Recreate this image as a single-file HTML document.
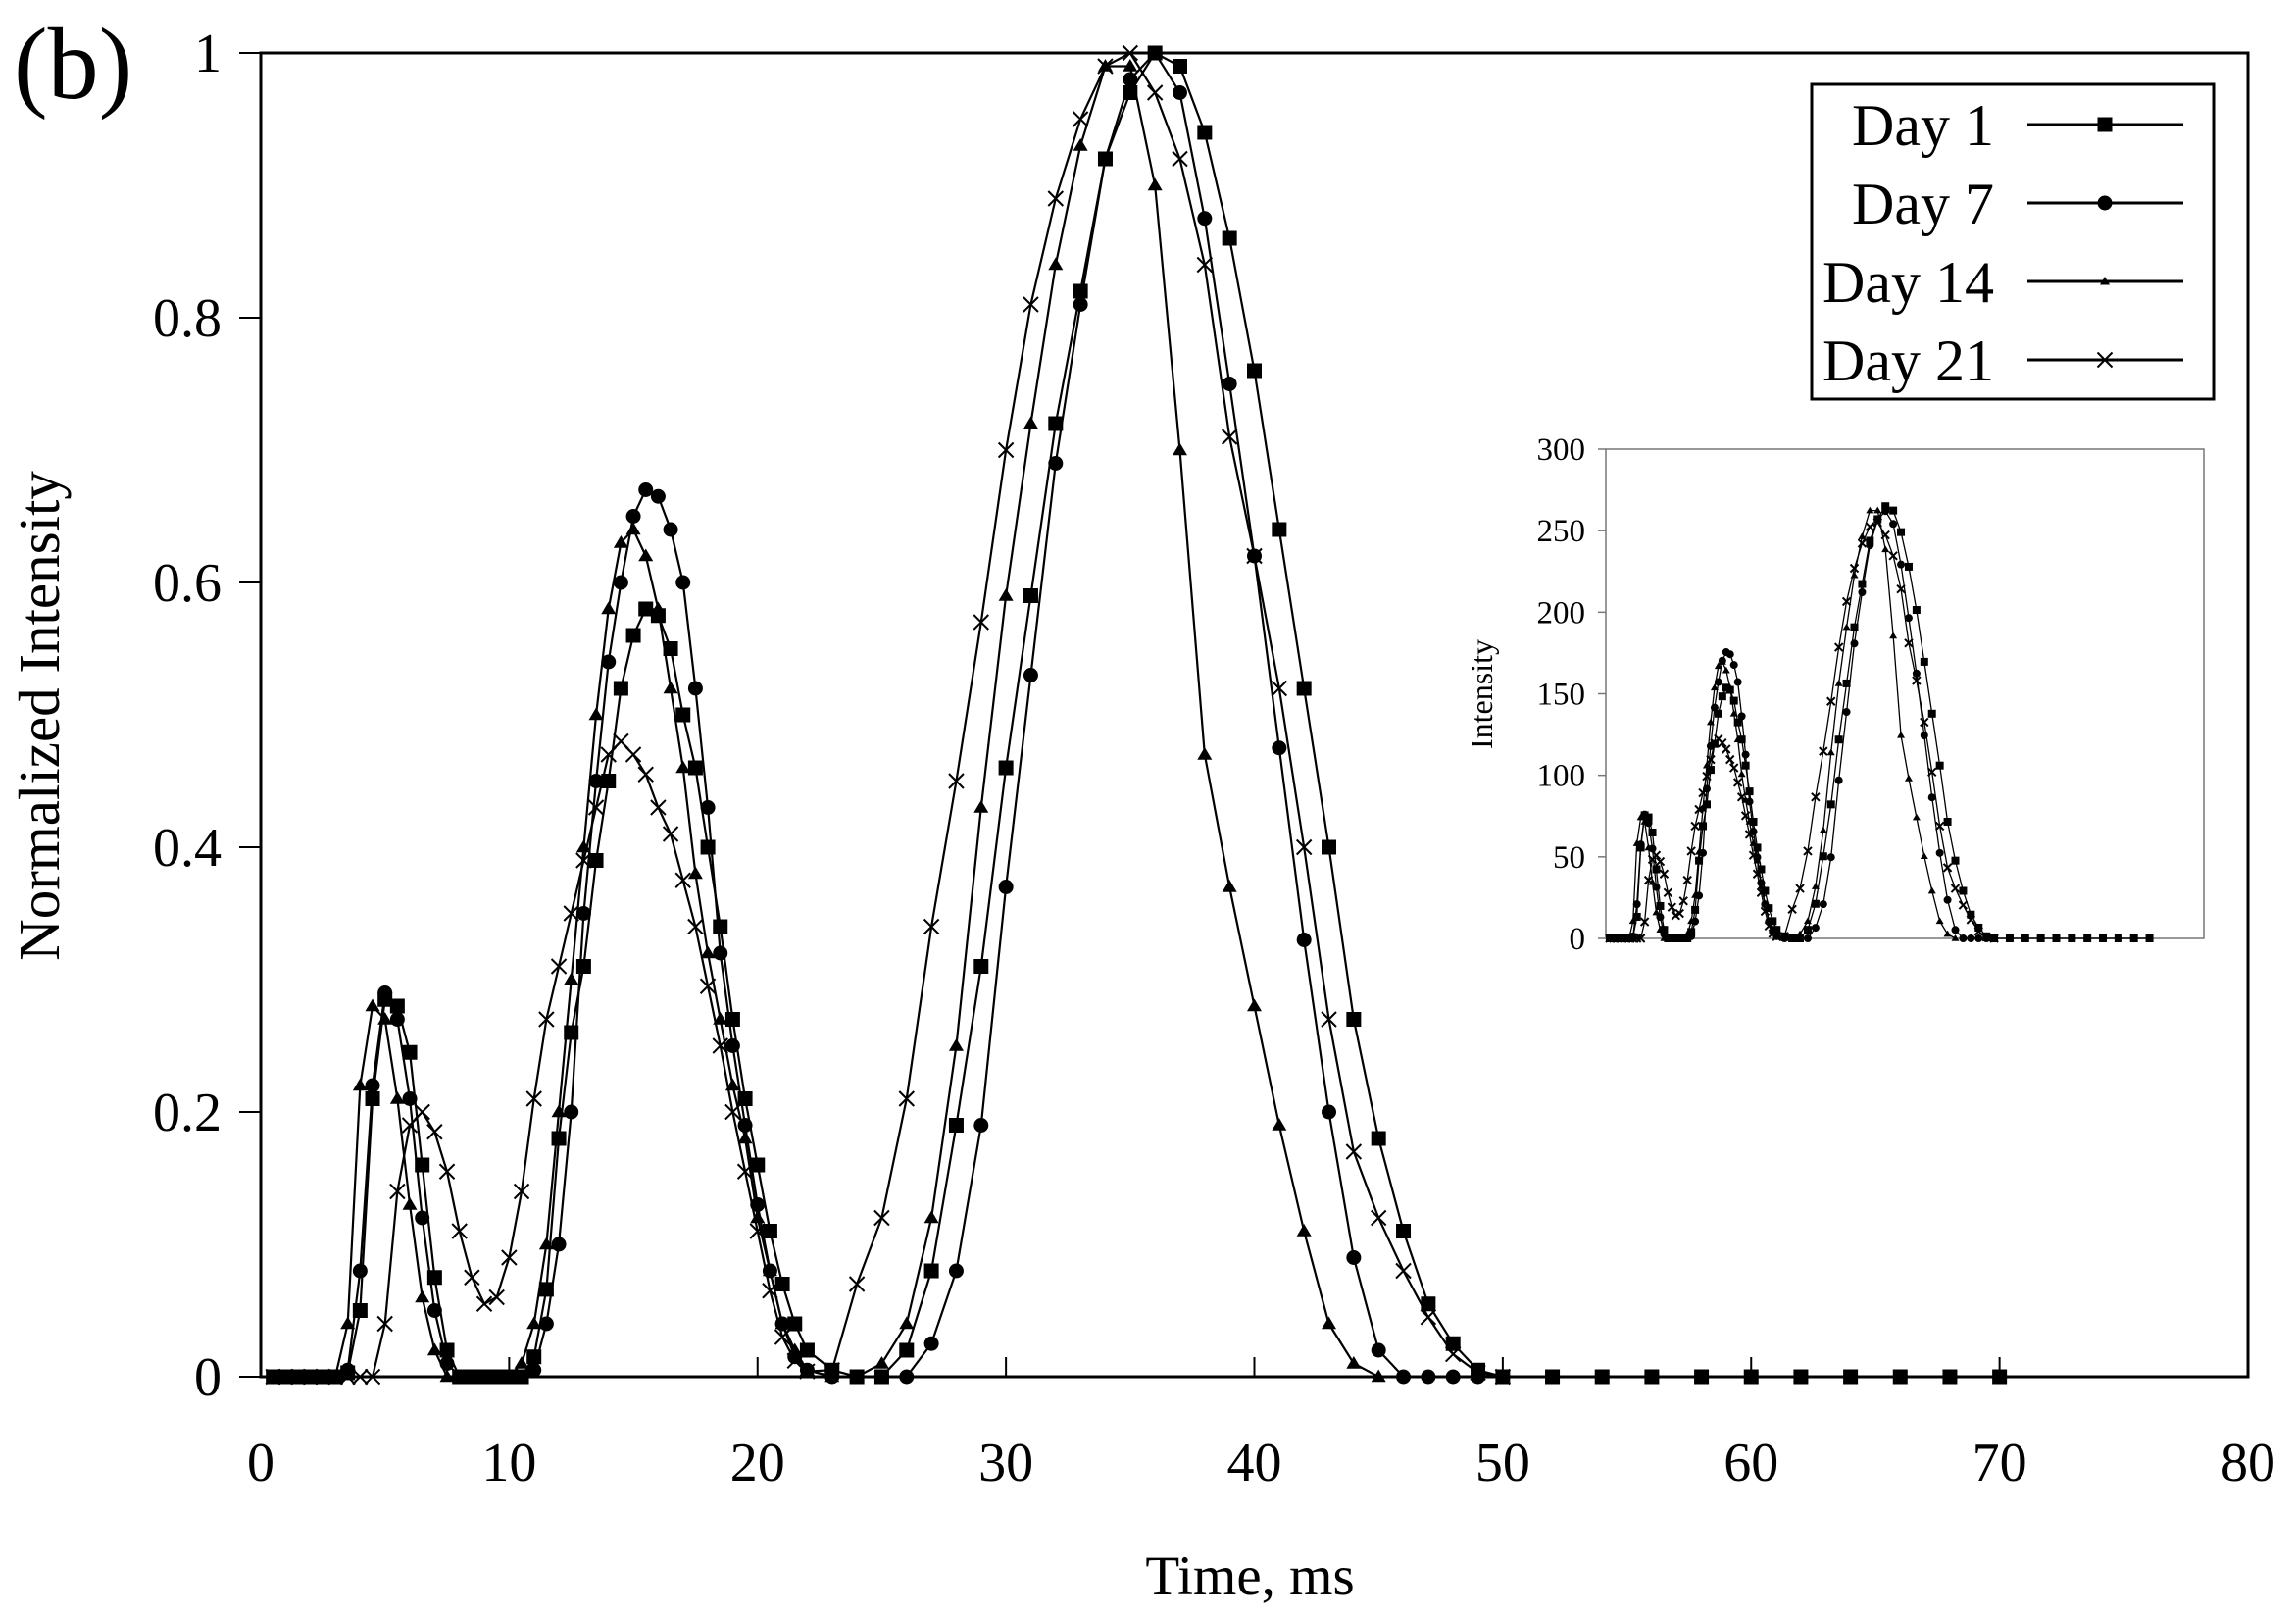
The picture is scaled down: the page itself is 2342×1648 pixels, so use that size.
<!DOCTYPE html>
<html><head><meta charset="utf-8">
<style>
html,body{margin:0;padding:0;background:#fff;}
svg{display:block;font-family:"Liberation Serif",serif;}
</style></head>
<body>
<svg id="chart" width="2342" height="1648" viewBox="0 0 2342 1648" xmlns="http://www.w3.org/2000/svg">
<rect width="2342" height="1648" fill="#fff"/>
<text x="14" y="100" font-size="104">(b)</text>
<g id="main"></g>
<g id="inset"></g>
<g id="legend"></g>
<text x="1275" y="1626" font-size="57" text-anchor="middle">Time, ms</text>
<text transform="translate(60,730) rotate(-90)" font-size="59" text-anchor="middle">Normalized Intensity</text>
<text transform="translate(1522,708) rotate(-90)" font-size="32" text-anchor="middle">Intensity</text>
</svg>
<script>
const times = [0.5,1,1.5,2,2.5,3,3.5,4,4.5,5,5.5,6,6.5,7,7.5,8,8.5,9,9.5,10,10.5,11,11.5,12,12.5,13,13.5,14,14.5,15,15.5,16,16.5,17,17.5,18,18.5,19,19.5,20,20.5,21,21.5,22,23,24,25,26,27,28,29,30,31,32,33,34,35,36,37,38,39,40,41,42,43,44,45,46,47,48,49,50,52,54,56,58,60,62,64,66,68,70];
const day1 = [0,0,0,0,0,0,0.003,0.05,0.21,0.285,0.28,0.245,0.16,0.075,0.02,0,0,0,0,0,0,0.015,0.066,0.18,0.26,0.31,0.39,0.45,0.52,0.56,0.58,0.575,0.55,0.5,0.46,0.4,0.34,0.27,0.21,0.16,0.11,0.07,0.04,0.02,0.005,0,0,0.02,0.08,0.19,0.31,0.46,0.59,0.72,0.82,0.92,0.97,1.0,0.99,0.94,0.86,0.76,0.64,0.52,0.4,0.27,0.18,0.11,0.055,0.025,0.005,0,0,0,0,0,0,0,0,0,0,0];
const day7 = [0,0,0,0,0,0,0.005,0.08,0.22,0.29,0.27,0.21,0.12,0.05,0.01,0,0,0,0,0,0,0.005,0.04,0.1,0.2,0.35,0.45,0.54,0.6,0.65,0.67,0.665,0.64,0.6,0.52,0.43,0.32,0.25,0.19,0.13,0.08,0.04,0.015,0.005,0,0,0,0,0.025,0.08,0.19,0.37,0.53,0.69,0.81,0.92,0.98,1.0,0.97,0.875,0.75,0.62,0.475,0.33,0.2,0.09,0.02,0,0,0,0,0,0,0,0,0,0,0,0,0,0,0];
const day14 = [0,0,0,0,0,0,0.04,0.22,0.28,0.27,0.21,0.13,0.06,0.02,0,0,0,0,0,0,0.01,0.04,0.1,0.2,0.3,0.4,0.5,0.58,0.63,0.64,0.62,0.58,0.52,0.46,0.38,0.32,0.27,0.22,0.18,0.12,0.08,0.04,0.02,0.005,0,0,0.01,0.04,0.12,0.25,0.43,0.59,0.72,0.84,0.93,0.99,0.99,0.9,0.7,0.47,0.37,0.28,0.19,0.11,0.04,0.01,0,null,null,null,null,null,null,null,null,null,null,null,null,null,null,null];
const day21 = [0,0,0,0,0,0,0,0,0,0.04,0.14,0.19,0.2,0.185,0.155,0.11,0.075,0.055,0.06,0.09,0.14,0.21,0.27,0.31,0.35,0.39,0.43,0.47,0.48,0.47,0.455,0.43,0.41,0.375,0.34,0.295,0.25,0.2,0.155,0.11,0.065,0.03,0.012,0.004,0.005,0.07,0.12,0.21,0.34,0.45,0.57,0.7,0.81,0.89,0.95,0.99,1.0,0.97,0.92,0.84,0.71,0.62,0.52,0.4,0.27,0.17,0.12,0.08,0.045,0.017,0.003,0,null,null,null,null,null,null,null,null,null,null];
const seriesNames = ["Day 1","Day 7","Day 14","Day 21"];
const seriesMarkers = ["square","circle","triangle","cross"];
const insetPeakIntensity = [265,262,265,255];
const xTicks = [0,10,20,30,40,50,60,70,80];
const yTicks = [0,0.2,0.4,0.6,0.8,1];
const yTickLabels = ["0","0.2","0.4","0.6","0.8","1"];
const insetYTicks = [0,50,100,150,200,250,300];

const NS = "http://www.w3.org/2000/svg";
function el(tag, attrs, parent){const e=document.createElementNS(NS,tag);for(const k in attrs)e.setAttribute(k,attrs[k]);parent.appendChild(e);return e;}
const allSeries=[day1,day7,day14,day21];

const L=266,R=2293,T=54,B=1404;
const xs=v=>L+(v-0)/(80-0)*(R-L);
const ys=v=>B-(v-0)/(1-0)*(B-T);
const main=document.getElementById('main');
const frame=el('rect',{x:L,y:T,width:R-L,height:B-T,fill:'none',stroke:'#000','stroke-width':3},main);


xTicks.forEach(t=>{
  const ln=el('line',{x1:xs(t),x2:xs(t),y1:B,y2:B-20,stroke:'#000','stroke-width':2},main);
  
  
  const tx=el('text',{x:xs(t),y:1510,'font-size':56,'text-anchor':'middle'},main);
  tx.textContent=String(t);
  
  
});
yTicks.forEach((t,i)=>{
  const ln=el('line',{x1:L-22,x2:L,y1:ys(t),y2:ys(t),stroke:'#000','stroke-width':2},main);
  
  
  const tx=el('text',{x:226,y:ys(t)+19,'font-size':56,'text-anchor':'end'},main);
  tx.textContent=yTickLabels[i];
  
  
});

function marker(g,type,x,y,s){
  let m;
  if(type==='square') m=el('rect',{x:x-s/2,y:y-s/2,width:s,height:s,fill:'#000'},g);
  else if(type==='circle') m=el('circle',{cx:x,cy:y,r:s/2,fill:'#000'},g);
  else if(type==='triangle') m=el('path',{d:`M${x-s/2},${y+s*0.35}L${x+s/2},${y+s*0.35}L${x},${y-s*0.5}Z`,fill:'#000'},g);
  else m=el('path',{d:`M${x-s/2},${y-s/2}L${x+s/2},${y+s/2}M${x-s/2},${y+s/2}L${x+s/2},${y-s/2}`,stroke:'#000','stroke-width':2,fill:'none'},g);
  return m;
}

function drawSeries(parent,X,Y,scaleArr,size,lw,prefix){
  allSeries.forEach((arr,si)=>{
    const g=el('g',{},parent);
    
    
    const pts=[];
    arr.forEach((v,i)=>{if(v!==null)pts.push([X(times[i]),Y(v*scaleArr[si])]);});
    const ln=el('polyline',{points:pts.map(p=>p.join(',')).join(' '),fill:'none',stroke:'#000','stroke-width':lw},g);
    
    
    pts.forEach(p=>{
      const m=marker(g,seriesMarkers[si],p[0],p[1],size);
      
      
    });
  });
}
drawSeries(main,xs,ys,[1,1,1,1],15,2.2,'');

const iL=1638,iR=2248,iT=458,iB=957;
const ixs=v=>iL+(v-0)/(77-0)*(iR-iL);
const iys=v=>iB-(v-0)/(300-0)*(iB-iT);
const inset=document.getElementById('inset');
const ibg=el('rect',{x:iL,y:iT,width:iR-iL,height:iB-iT,fill:'#fff',stroke:'#777','stroke-width':1.5},inset);


insetYTicks.forEach(t=>{
  const ln=el('line',{x1:iL-8,x2:iL,y1:iys(t),y2:iys(t),stroke:'#777','stroke-width':1.5},inset);
  
  
  const tx=el('text',{x:1617,y:iys(t)+11,'font-size':33,'text-anchor':'end'},inset);
  tx.textContent=String(t);
  
  
});
drawSeries(inset,ixs,iys,insetPeakIntensity,8,1.3,'inset-');

const leg=document.getElementById('legend');
const lb=el('rect',{x:1848,y:86,width:410,height:321,fill:'#fff',stroke:'#000','stroke-width':3},leg);


const legY=[127,207,287,367];
seriesNames.forEach((n,i)=>{
  const g=el('g',{},leg);
  
  
  const tx=el('text',{x:2034,y:legY[i]+21,'font-size':60,'text-anchor':'end'},g);
  tx.textContent=n;
  el('line',{x1:2068,x2:2227,y1:legY[i],y2:legY[i],stroke:'#000','stroke-width':3},g);
  marker(g,seriesMarkers[i],2147,legY[i],i===2?10:15);
});
</script>
</body></html>
